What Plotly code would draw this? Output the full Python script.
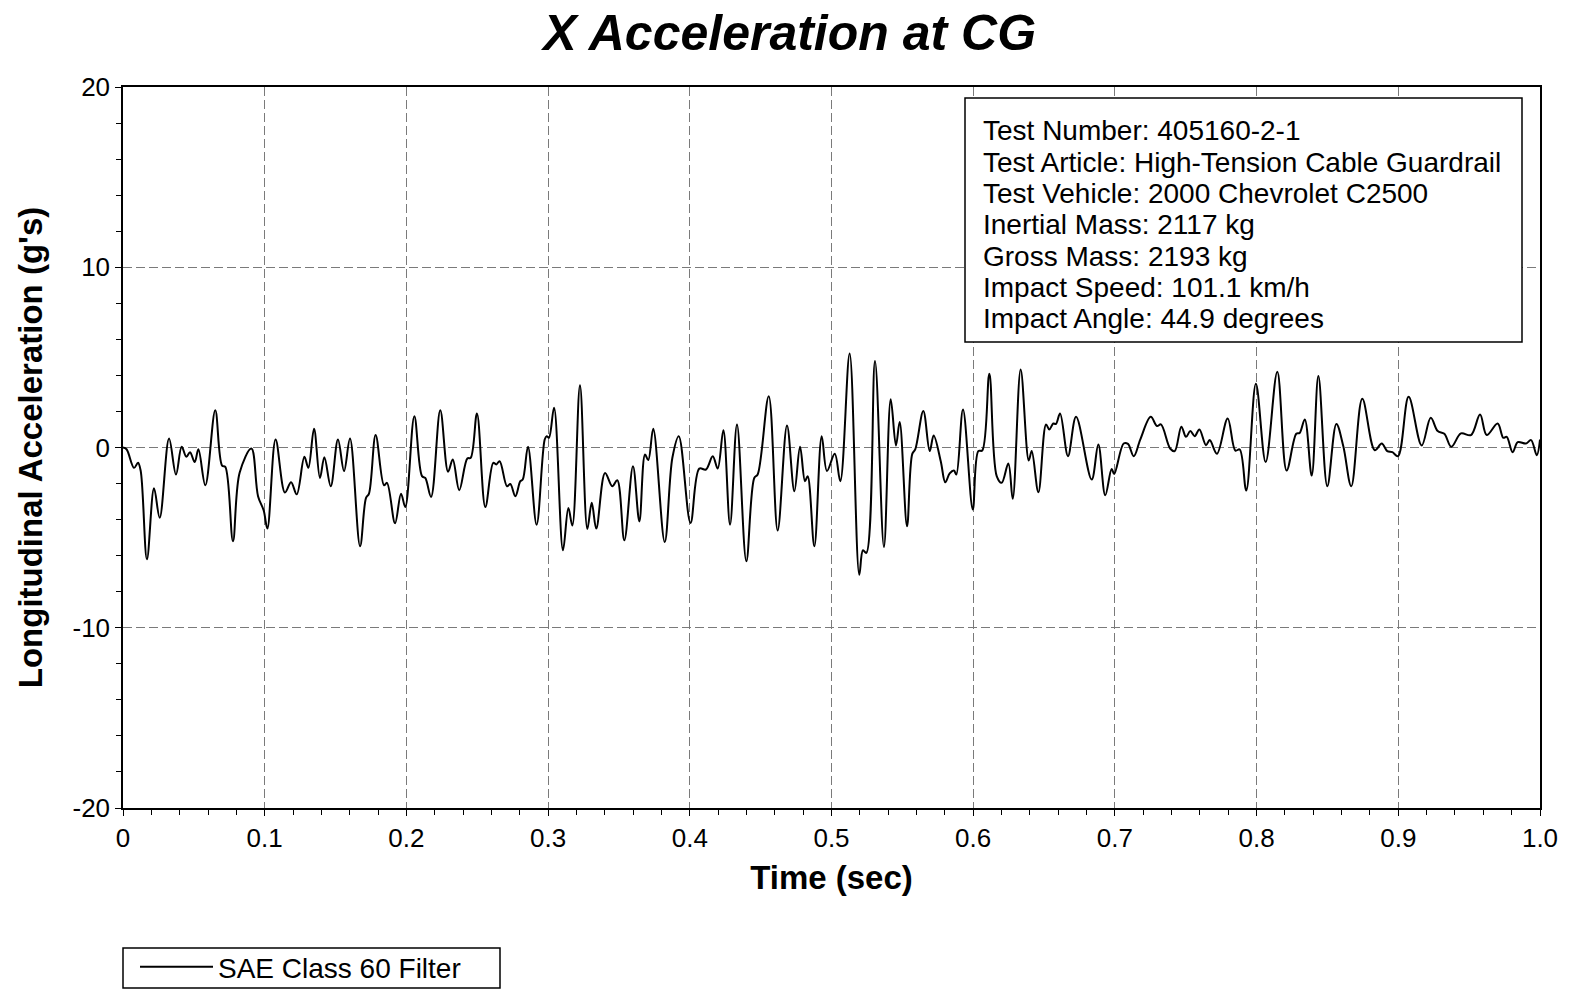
import plotly.graph_objects as go

# Longitudinal acceleration at the centre of gravity (SAE class 60 filtered)
time_s = [
    0.0000, 0.0025, 0.0078, 0.0106, 0.0125, 0.0169, 0.0219, 0.0259, 0.0325, 0.0374,
    0.0414, 0.0447, 0.0473, 0.0506, 0.0532, 0.0581, 0.0651, 0.0699, 0.0722, 0.0776,
    0.0823, 0.0906, 0.0953, 0.0993, 0.1019, 0.1077, 0.1143, 0.1186, 0.1226, 0.1280,
    0.1308, 0.1348, 0.1390, 0.1421, 0.1466, 0.1517, 0.1560, 0.1602, 0.1673, 0.1715,
    0.1736, 0.1783, 0.1842, 0.1863, 0.1920, 0.1962, 0.1992, 0.2056, 0.2110, 0.2133,
    0.2174, 0.2239, 0.2294, 0.2327, 0.2373, 0.2430, 0.2454, 0.2498, 0.2557, 0.2613,
    0.2634, 0.2658, 0.2710, 0.2733, 0.2769, 0.2804, 0.2821, 0.2858, 0.2919, 0.2976,
    0.2990, 0.3006, 0.3042, 0.3105, 0.3143, 0.3171, 0.3225, 0.3277, 0.3308, 0.3340,
    0.3402, 0.3453, 0.3488, 0.3538, 0.3599, 0.3644, 0.3684, 0.3707, 0.3742, 0.3823,
    0.3877, 0.3922, 0.4005, 0.4067, 0.4114, 0.4162, 0.4197, 0.4237, 0.4284, 0.4333,
    0.4399, 0.4455, 0.4479, 0.4557, 0.4620, 0.4686, 0.4738, 0.4778, 0.4813, 0.4832,
    0.4879, 0.4931, 0.4968, 0.5023, 0.5062, 0.5128, 0.5196, 0.5222, 0.5246, 0.5307,
    0.5370, 0.5418, 0.5455, 0.5481, 0.5533, 0.5570, 0.5591, 0.5648, 0.5693, 0.5721,
    0.5771, 0.5803, 0.5834, 0.5864, 0.5881, 0.5928, 0.5997, 0.6036, 0.6064, 0.6114,
    0.6166, 0.6201, 0.6248, 0.6279, 0.6335, 0.6392, 0.6413, 0.6460, 0.6514, 0.6537,
    0.6565, 0.6584, 0.6613, 0.6669, 0.6726, 0.6836, 0.6883, 0.6932, 0.6977, 0.6995,
    0.7062, 0.7092, 0.7133, 0.7179, 0.7253, 0.7297, 0.7325, 0.7391, 0.7422, 0.7469,
    0.7502, 0.7532, 0.7563, 0.7596, 0.7643, 0.7669, 0.7720, 0.7796, 0.7850, 0.7881,
    0.7927, 0.7995, 0.8064, 0.8146, 0.8212, 0.8280, 0.8304, 0.8340, 0.8389, 0.8436,
    0.8499, 0.8563, 0.8612, 0.8668, 0.8746, 0.8834, 0.8883, 0.8922, 0.8958, 0.8998,
    0.9073, 0.9165, 0.9229, 0.9278, 0.9325, 0.9374, 0.9442, 0.9513, 0.9577, 0.9624,
    0.9701, 0.9741, 0.9765, 0.9807, 0.9843, 0.9901, 0.9937, 0.9977, 1.0000,
]
accel_g = [
    0.00, -0.10, -1.13, -0.85, -1.30, -6.20, -2.26, -3.90, 0.50, -1.50,
    0.04, -0.52, -0.26, -0.81, -0.10, -2.10, 2.06, -1.00, -1.07, -5.20,
    -1.40, -0.06, -2.70, -3.50, -4.50, 0.44, -2.50, -1.93, -2.60, -0.52,
    -1.13, 1.04, -1.69, -0.54, -2.15, 0.44, -1.31, 0.50, -5.48, -2.80,
    -2.56, 0.69, -2.10, -1.96, -4.20, -2.56, -3.30, 1.74, -1.59, -1.69,
    -2.74, 2.06, -1.35, -0.67, -2.37, -0.61, -0.57, 1.89, -3.30, -0.85,
    -0.94, -0.76, -2.15, -2.02, -2.70, -1.87, -1.78, 0.04, -4.28, 0.44,
    0.63, 0.54, 2.20, -5.70, -3.35, -4.33, 3.46, -4.52, -3.07, -4.50,
    -1.41, -2.15, -1.81, -5.15, -1.04, -4.10, -0.39, -0.70, 1.04, -5.24,
    -0.57, 0.63, -4.19, -1.17, -1.22, -0.48, -1.17, 0.96, -4.28, 1.28,
    -6.31, -1.69, -1.50, 2.85, -4.60, 1.22, -2.43, 0.04, -1.87, -1.59,
    -5.48, 0.63, -1.30, -0.35, -1.87, 5.22, -7.06, -5.70, -5.85, 4.80,
    -5.52, 2.67, 0.11, 1.41, -4.37, -0.35, -0.11, 2.02, -0.20, 0.67,
    -0.76, -1.93, -1.44, -1.28, -1.50, 2.11, -3.44, -0.20, -0.17, 4.09,
    -1.59, -1.96, -0.89, -2.85, 4.33, -0.72, -0.20, -2.48, 1.28, 1.00,
    1.33, 1.31, 1.89, -0.48, 1.70, -1.78, 0.17, -2.65, -1.19, -1.47,
    0.22, 0.20, -0.48, 0.44, 1.70, 1.19, 1.28, -0.07, -0.20, 1.15,
    0.59, 0.91, 0.63, 1.00, 0.13, 0.41, -0.35, 1.61, -0.17, -0.11,
    -2.39, 3.54, -0.81, 4.20, -1.28, 0.76, 0.81, 1.56, -1.56, 3.96,
    -2.15, 1.31, 0.07, -2.15, 2.70, -0.15, 0.22, -0.20, -0.26, -0.48,
    2.81, 0.11, 1.65, 0.91, 0.76, 0.04, 0.78, 0.69, 1.83, 0.69,
    1.33, 0.54, 0.59, -0.26, 0.30, 0.22, 0.41, -0.43, 0.44,
]

x_tick_vals = [0, 0.1, 0.2, 0.3, 0.4, 0.5, 0.6, 0.7, 0.8, 0.9, 1.0]
x_tick_text = ["0", "0.1", "0.2", "0.3", "0.4", "0.5", "0.6", "0.7", "0.8", "0.9", "1.0"]
y_tick_vals = [-20, -10, 0, 10, 20]
y_tick_text = ["-20", "-10", "0", "10", "20"]

info_lines = [
    "Test Number: 405160-2-1",
    "Test Article: High-Tension Cable Guardrail",
    "Test Vehicle: 2000 Chevrolet C2500",
    "Inertial Mass: 2117 kg",
    "Gross Mass: 2193 kg",
    "Impact Speed: 101.1 km/h",
    "Impact Angle: 44.9 degrees",
]

FONT = "Liberation Sans, Arial, Helvetica, sans-serif"
W, H = 1570, 989
ML, MR, MT, MB = 123, 30, 87, 181
PW, PH = W - ML - MR, H - MT - MB


def px_x(p):
    """Pixel column -> paper x (plot-area fraction)."""
    return (p - ML) / PW


def px_y(p):
    """Pixel row -> paper y (plot-area fraction)."""
    return (H - MB - p) / PH


fig = go.Figure()
fig.add_trace(go.Scatter(
    x=time_s, y=accel_g, mode="lines", name="SAE Class 60 Filter",
    line=dict(color="black", width=2, shape="spline", smoothing=1.0),
))

grid_style = dict(showgrid=True, gridcolor="#7a7a7a", gridwidth=1, griddash="9px,4px")
axis_style = dict(
    showline=True, linecolor="black", linewidth=1.5, mirror=True,
    ticks="outside", ticklen=6, tickwidth=1.2, tickcolor="black",
    zeroline=False, tickfont=dict(family=FONT, size=26, color="black"),
)

fig.update_xaxes(
    range=[0, 1], tickvals=x_tick_vals, ticktext=x_tick_text,
    minor=dict(dtick=0.02, ticks="outside", ticklen=5, tickcolor="black", showgrid=False),
    title=dict(text="<b>Time (sec)</b>", font=dict(family=FONT, size=33, color="black"), standoff=14),
    **grid_style, **axis_style,
)
fig.update_yaxes(
    range=[-20, 20], tickvals=y_tick_vals, ticktext=y_tick_text,
    minor=dict(dtick=2, ticks="outside", ticklen=5, tickcolor="black", showgrid=False),
    title=dict(text="<b>Longitudinal Acceleration (g's)</b>", font=dict(family=FONT, size=33, color="black"), standoff=20),
    **grid_style, **axis_style,
)

# Test information box
fig.add_shape(type="rect", xref="paper", yref="paper",
              x0=px_x(965), x1=px_x(1522), y0=px_y(342), y1=px_y(98),
              line=dict(color="black", width=1.5), fillcolor="white", layer="above")
for i, line in enumerate(info_lines):
    fig.add_annotation(
        x=px_x(981), y=px_y(131 + i * 31.3), xref="paper", yref="paper",
        xanchor="left", yanchor="middle", showarrow=False, text=line,
        font=dict(family=FONT, size=28, color="black"),
    )

# Legend frame below the plot
fig.add_shape(type="rect", xref="paper", yref="paper",
              x0=px_x(123), x1=px_x(500), y0=px_y(988), y1=px_y(948),
              line=dict(color="black", width=1.5), fillcolor="rgba(0,0,0,0)")

fig.update_layout(
    width=W, height=H,
    margin=dict(l=ML, r=MR, t=MT, b=MB, autoexpand=False),
    paper_bgcolor="white", plot_bgcolor="white",
    title=dict(text="<b><i>X Acceleration at CG</i></b>", x=0.503, xanchor="center",
               y=1 - 32 / H, yanchor="middle", yref="container",
               font=dict(family=FONT, size=50, color="black")),
    showlegend=True,
    legend=dict(x=px_x(135), y=px_y(942), xanchor="left", yanchor="top",
                itemwidth=73,
                bgcolor="rgba(0,0,0,0)", borderwidth=0,
                font=dict(family=FONT, size=28, color="black")),
)

fig.write_html("out.html")
